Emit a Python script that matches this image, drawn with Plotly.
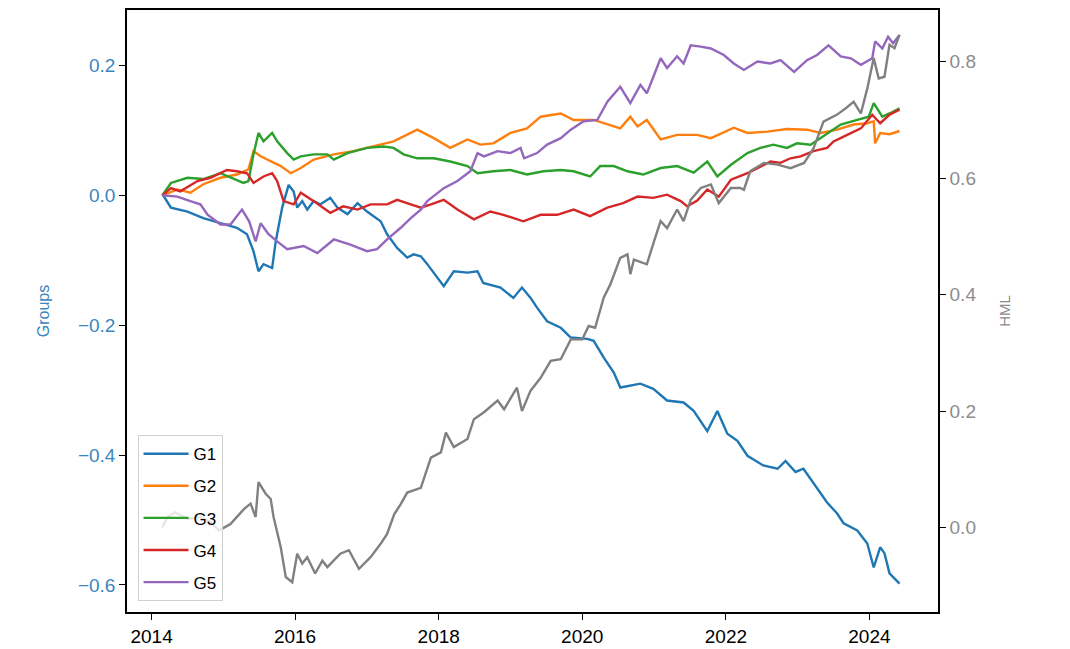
import pandas as pd
import plotly.graph_objects as go

# ---------------- data (decimal years, values) ----------------
g1_years = [2014.15, 2014.27, 2014.50, 2014.72, 2014.96, 2015.19, 2015.33, 2015.42, 2015.49, 2015.56,
            2015.68, 2015.73, 2015.82, 2015.91, 2015.98, 2016.03, 2016.10, 2016.17, 2016.26, 2016.35,
            2016.49, 2016.59, 2016.73, 2016.87, 2017.00, 2017.19, 2017.28, 2017.42, 2017.56, 2017.65,
            2017.75, 2017.84, 2018.07, 2018.21, 2018.40, 2018.54, 2018.62, 2018.86, 2019.04, 2019.16,
            2019.28, 2019.37, 2019.51, 2019.70, 2019.84, 2020.07, 2020.16, 2020.30, 2020.44, 2020.53,
            2020.81, 2020.99, 2021.18, 2021.41, 2021.55, 2021.74, 2021.88, 2022.02, 2022.16, 2022.30,
            2022.52, 2022.72, 2022.83, 2022.97, 2023.08, 2023.27, 2023.41, 2023.55, 2023.64, 2023.83,
            2023.97, 2024.06, 2024.15, 2024.21, 2024.28, 2024.42]
g1_values = [0.002, -0.019, -0.025, -0.035, -0.043, -0.050, -0.060, -0.086, -0.117, -0.106,
             -0.112, -0.071, -0.019, 0.016, 0.006, -0.019, -0.009, -0.022, -0.009, -0.014,
             -0.004, -0.019, -0.029, -0.012, -0.025, -0.040, -0.060, -0.081, -0.096, -0.091,
             -0.094, -0.106, -0.140, -0.117, -0.119, -0.117, -0.135, -0.142, -0.158, -0.142,
             -0.158, -0.173, -0.194, -0.204, -0.219, -0.221, -0.224, -0.250, -0.273, -0.296,
             -0.290, -0.298, -0.316, -0.319, -0.332, -0.363, -0.332, -0.367, -0.378, -0.401,
             -0.416, -0.421, -0.409, -0.426, -0.421, -0.450, -0.473, -0.490, -0.505, -0.516,
             -0.536, -0.573, -0.542, -0.551, -0.582, -0.598]

g2_years = [2014.15, 2014.36, 2014.54, 2014.72, 2014.96, 2015.19, 2015.35, 2015.42, 2015.52, 2015.66,
            2015.80, 2015.94, 2016.08, 2016.26, 2016.54, 2016.81, 2017.09, 2017.37, 2017.61, 2017.70,
            2017.93, 2018.16, 2018.40, 2018.58, 2018.76, 2019.00, 2019.23, 2019.42, 2019.70, 2019.88,
            2020.16, 2020.35, 2020.53, 2020.67, 2020.77, 2020.90, 2021.09, 2021.32, 2021.60, 2021.79,
            2022.11, 2022.30, 2022.58, 2022.85, 2023.13, 2023.32, 2023.55, 2023.78, 2023.97, 2024.06,
            2024.08, 2024.15, 2024.28, 2024.42]
g2_values = [0.000, 0.009, 0.004, 0.017, 0.027, 0.032, 0.040, 0.068, 0.060, 0.052,
             0.045, 0.034, 0.042, 0.055, 0.063, 0.068, 0.075, 0.083, 0.096, 0.101,
             0.088, 0.073, 0.086, 0.078, 0.080, 0.096, 0.103, 0.121, 0.126, 0.116,
             0.116, 0.109, 0.103, 0.121, 0.106, 0.116, 0.086, 0.093, 0.093, 0.088,
             0.104, 0.096, 0.098, 0.102, 0.101, 0.096, 0.101, 0.109, 0.111, 0.114,
             0.080, 0.096, 0.094, 0.099]

g3_years = [2014.15, 2014.27, 2014.50, 2014.72, 2014.96, 2015.14, 2015.28, 2015.35, 2015.42, 2015.49,
            2015.56, 2015.68, 2015.75, 2015.89, 2015.98, 2016.08, 2016.26, 2016.45, 2016.54, 2016.73,
            2017.00, 2017.23, 2017.37, 2017.51, 2017.70, 2017.93, 2018.16, 2018.40, 2018.54, 2018.76,
            2019.00, 2019.23, 2019.46, 2019.70, 2019.88, 2020.11, 2020.25, 2020.44, 2020.63, 2020.85,
            2021.09, 2021.32, 2021.55, 2021.74, 2021.88, 2022.07, 2022.30, 2022.48, 2022.66, 2022.85,
            2022.99, 2023.18, 2023.36, 2023.60, 2023.83, 2023.99, 2024.06, 2024.18, 2024.28, 2024.42]
g3_values = [0.000, 0.019, 0.027, 0.025, 0.034, 0.025, 0.019, 0.022, 0.063, 0.096,
             0.083, 0.096, 0.083, 0.065, 0.055, 0.060, 0.063, 0.063, 0.055, 0.065,
             0.073, 0.075, 0.073, 0.063, 0.057, 0.057, 0.052, 0.045, 0.034, 0.037,
             0.039, 0.032, 0.037, 0.039, 0.037, 0.029, 0.045, 0.045, 0.037, 0.032,
             0.042, 0.045, 0.035, 0.052, 0.029, 0.047, 0.065, 0.073, 0.078, 0.073,
             0.080, 0.078, 0.091, 0.109, 0.116, 0.121, 0.142, 0.121, 0.126, 0.134]

g4_years = [2014.15, 2014.27, 2014.40, 2014.64, 2014.82, 2015.05, 2015.19, 2015.33, 2015.42, 2015.56,
            2015.68, 2015.75, 2015.84, 2015.98, 2016.08, 2016.26, 2016.49, 2016.67, 2016.87, 2017.05,
            2017.28, 2017.42, 2017.61, 2017.75, 2017.89, 2018.07, 2018.26, 2018.49, 2018.72, 2018.90,
            2019.18, 2019.42, 2019.65, 2019.88, 2020.11, 2020.35, 2020.57, 2020.77, 2020.99, 2021.18,
            2021.37, 2021.46, 2021.60, 2021.74, 2021.90, 2022.07, 2022.30, 2022.44, 2022.62, 2022.76,
            2022.90, 2023.04, 2023.22, 2023.41, 2023.50, 2023.69, 2023.88, 2024.04, 2024.15, 2024.28,
            2024.42]
g4_values = [0.000, 0.011, 0.006, 0.022, 0.027, 0.039, 0.037, 0.034, 0.019, 0.029,
             0.034, 0.022, -0.009, -0.014, 0.004, -0.009, -0.027, -0.017, -0.022, -0.014,
             -0.014, -0.007, -0.014, -0.019, -0.014, -0.007, -0.022, -0.037, -0.025, -0.030,
             -0.040, -0.030, -0.030, -0.022, -0.032, -0.019, -0.012, -0.002, -0.004, 0.001,
             -0.009, -0.017, -0.008, 0.009, -0.002, 0.024, 0.034, 0.042, 0.052, 0.050,
             0.057, 0.060, 0.068, 0.073, 0.083, 0.093, 0.103, 0.124, 0.111, 0.124,
             0.132]

g5_years = [2014.15, 2014.36, 2014.54, 2014.68, 2014.78, 2014.96, 2015.10, 2015.26, 2015.36, 2015.45,
            2015.52, 2015.63, 2015.75, 2015.89, 2016.12, 2016.31, 2016.54, 2016.77, 2017.00, 2017.14,
            2017.28, 2017.47, 2017.61, 2017.75, 2017.84, 2018.07, 2018.26, 2018.44, 2018.54, 2018.63,
            2018.82, 2019.00, 2019.14, 2019.19, 2019.37, 2019.51, 2019.70, 2019.84, 2020.02, 2020.21,
            2020.35, 2020.53, 2020.67, 2020.81, 2020.90, 2021.09, 2021.18, 2021.32, 2021.41, 2021.51,
            2021.65, 2021.79, 2021.97, 2022.11, 2022.25, 2022.44, 2022.62, 2022.76, 2022.95, 2023.13,
            2023.27, 2023.43, 2023.60, 2023.74, 2023.88, 2024.04, 2024.08, 2024.18, 2024.26, 2024.33,
            2024.42]
g5_values = [0.000, -0.002, -0.009, -0.014, -0.030, -0.045, -0.045, -0.022, -0.040, -0.071,
             -0.043, -0.060, -0.071, -0.083, -0.078, -0.089, -0.068, -0.076, -0.086, -0.083,
             -0.068, -0.050, -0.035, -0.022, -0.009, 0.011, 0.022, 0.037, 0.065, 0.060,
             0.068, 0.065, 0.073, 0.057, 0.065, 0.078, 0.088, 0.101, 0.114, 0.116,
             0.144, 0.167, 0.142, 0.170, 0.157, 0.211, 0.196, 0.214, 0.203, 0.231,
             0.229, 0.226, 0.216, 0.203, 0.193, 0.206, 0.203, 0.208, 0.190, 0.208,
             0.216, 0.231, 0.214, 0.211, 0.201, 0.211, 0.237, 0.226, 0.244, 0.234,
             0.247]

hml_years = [2014.15, 2014.22, 2014.33, 2014.50, 2014.68, 2014.82, 2014.94, 2015.10, 2015.29, 2015.38,
             2015.45, 2015.49, 2015.59, 2015.66, 2015.70, 2015.80, 2015.87, 2015.96, 2016.03, 2016.10,
             2016.17, 2016.28, 2016.38, 2016.45, 2016.63, 2016.75, 2016.89, 2017.05, 2017.19, 2017.28,
             2017.38, 2017.47, 2017.56, 2017.75, 2017.89, 2018.03, 2018.10, 2018.21, 2018.40, 2018.49,
             2018.63, 2018.82, 2018.91, 2019.09, 2019.16, 2019.28, 2019.42, 2019.56, 2019.70, 2019.84,
             2020.00, 2020.09, 2020.18, 2020.25, 2020.30, 2020.39, 2020.53, 2020.63, 2020.67, 2020.72,
             2020.90, 2021.00, 2021.09, 2021.18, 2021.32, 2021.41, 2021.51, 2021.65, 2021.79, 2021.90,
             2022.07, 2022.20, 2022.25, 2022.34, 2022.53, 2022.72, 2022.90, 2023.09, 2023.22, 2023.36,
             2023.55, 2023.67, 2023.78, 2023.88, 2023.97, 2024.06, 2024.13, 2024.21, 2024.28, 2024.35,
             2024.42]
hml_values = [0.000, 0.018, 0.026, 0.015, 0.018, 0.009, -0.005, 0.006, 0.032, 0.041,
              0.018, 0.078, 0.058, 0.049, 0.018, -0.034, -0.085, -0.094, -0.045, -0.062,
              -0.051, -0.079, -0.057, -0.068, -0.045, -0.039, -0.071, -0.051, -0.028, -0.011,
              0.023, 0.040, 0.060, 0.068, 0.120, 0.129, 0.163, 0.138, 0.152, 0.186,
              0.198, 0.218, 0.203, 0.240, 0.200, 0.235, 0.257, 0.286, 0.289, 0.323,
              0.323, 0.346, 0.343, 0.372, 0.395, 0.417, 0.463, 0.469, 0.435, 0.460,
              0.452, 0.492, 0.526, 0.514, 0.546, 0.526, 0.563, 0.583, 0.589, 0.557,
              0.583, 0.583, 0.580, 0.612, 0.626, 0.623, 0.617, 0.626, 0.651, 0.697,
              0.709, 0.720, 0.731, 0.711, 0.754, 0.806, 0.771, 0.774, 0.829, 0.823,
              0.846]

group_names = ["G1", "G2", "G3", "G4", "G5"]
group_colors = ["#1f77b4", "#ff7f0e", "#2ca02c", "#d62728", "#9467bd"]
x_tick_labels = ["2014", "2016", "2018", "2020", "2022", "2024"]
left_ticks = [-0.6, -0.4, -0.2, 0.0, 0.2]
left_tick_text = ["\u22120.6", "\u22120.4", "\u22120.2", "0.0", "0.2"]
right_ticks = [0.0, 0.2, 0.4, 0.6, 0.8]
right_tick_text = ["0.0", "0.2", "0.4", "0.6", "0.8"]


def to_dates(years):
    out = []
    for y in years:
        base = int(y)
        out.append(pd.Timestamp(base, 1, 1) + pd.Timedelta(days=(y - base) * 365.25))
    return out


FONT = "Liberation Sans, Arial, sans-serif"
BLUE_TXT = "#3a86c0"
GRAY_TXT = "#8c8c8c"

fig = go.Figure()

series = [(g1_years, g1_values), (g2_years, g2_values), (g3_years, g3_values),
          (g4_years, g4_values), (g5_years, g5_values)]
for name, color, (yrs, vals) in zip(group_names, group_colors, series):
    fig.add_trace(go.Scatter(x=to_dates(yrs), y=vals, mode="lines", name=name,
                             legendgroup=name,
                             line=dict(color=color, width=2.4)))

fig.add_trace(go.Scatter(x=to_dates(hml_years), y=hml_values, mode="lines", name="HML",
                         line=dict(color="#808080", width=2.4), yaxis="y2", showlegend=False))

tick_vals_x = [pd.Timestamp(int(t), 1, 1) for t in x_tick_labels]

fig.update_layout(
    width=1062, height=641,
    margin=dict(l=119, r=132, t=0, b=37),
    paper_bgcolor="white", plot_bgcolor="white",
    font=dict(family=FONT, size=18, color="black"),
    xaxis=dict(
        range=[pd.Timestamp(2013, 8, 29), pd.Timestamp(2024, 12, 15)],
        tickvals=tick_vals_x, ticktext=x_tick_labels,
        showgrid=False, zeroline=False,
        showline=True, linecolor="black", linewidth=1.5, mirror=True,
        ticks="outside", ticklen=6, tickcolor="black", tickwidth=1.2,
        tickfont=dict(size=19, color="black"),
    ),
    yaxis=dict(
        range=[-0.6416, 0.2853],
        tickvals=left_ticks, ticktext=left_tick_text,
        showgrid=False, zeroline=False,
        showline=True, linecolor="black", linewidth=1.5,
        ticks="outside", ticklen=6, tickcolor="black", tickwidth=1.2,
        tickfont=dict(size=19, color=BLUE_TXT),
        title=dict(text="Groups", font=dict(size=16, color=BLUE_TXT), standoff=24),
    ),
    yaxis2=dict(
        range=[-0.1451, 0.8886],
        overlaying="y", side="right",
        tickvals=right_ticks, ticktext=right_tick_text,
        showgrid=False, zeroline=False,
        showline=True, linecolor="black", linewidth=1.5,
        ticks="outside", ticklen=6, tickcolor="black", tickwidth=1.2,
        tickfont=dict(size=19, color=GRAY_TXT),
        title=dict(text="HML", font=dict(size=15, color=GRAY_TXT), standoff=24),
    ),
    legend=dict(
        x=0.013, y=0.018, xanchor="left", yanchor="bottom",
        bgcolor="rgba(255,255,255,0.8)", bordercolor="#d0d0d0", borderwidth=1,
        font=dict(size=17, color="black"),
        itemwidth=45, tracegroupgap=7,
    ),
    showlegend=True,
)

fig.write_html("out.html")
